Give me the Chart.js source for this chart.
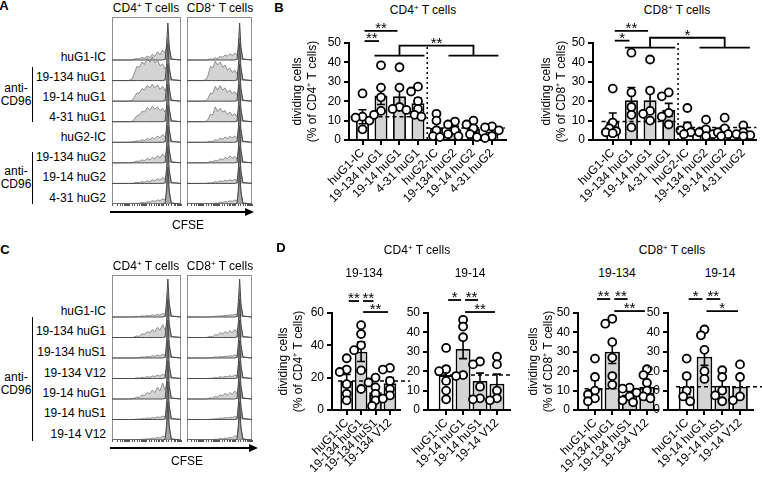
<!DOCTYPE html>
<html>
<head>
<meta charset="utf-8">
<script src="https://cdn.jsdelivr.net/npm/chart.js@4.4.1/dist/chart.umd.min.js"></script>
<style>
html, body { margin: 0; padding: 0; background: #fff; }
#fig { position: relative; width: 762px; height: 477px; overflow: hidden; background: #fff;
       font-family: 'Liberation Sans', Arial, Helvetica, sans-serif; font-size: 12px; color: #000; }
#fig canvas { position: absolute; }
.t { position: absolute; white-space: nowrap; line-height: 1; }
.t sup { font-size: 8px; vertical-align: 4px; line-height: 0; }
.pl { font-weight: bold; font-size: 13px; }
.br { position: absolute; width: 0; border-left: 1.5px solid #000; }
</style>
</head>
<body>
<div id="fig"></div>
<script>
// ---------- data: CFSE histograms (A, C), % of mode on a shared channel grid ----------
const cfseGrid = [0, 24, 29, 32, 36, 39.5, 43.5, 47, 51, 55, 58.5, 62, 66, 69.5, 73.5, 77, 79, 81, 83, 86, 100];
const ctrlPeak = [0, 0, 0, 0, 0, 0, 0, 0, 0, 0, 0, 0, 0, 0, 0, 2, 40, 100, 35, 2, 0];

const aRows = ['huG1-IC', '19-134 huG1', '19-14 huG1', '4-31 huG1', 'huG2-IC', '19-134 huG2', '19-14 huG2', '4-31 huG2'];
const aCd4Hist = [
  [0,0,1,2,4,3,7,5,10,7,15,10,22,14,27,18,35,60,30,3,0],
  [0,0,4,18,38,36,50,44,60,50,64,48,55,40,45,30,38,55,30,3,0],
  [0,0,2,10,22,22,34,30,42,36,46,36,44,32,40,28,36,55,30,3,0],
  [0,0,1,6,16,18,28,26,38,32,42,34,40,30,36,26,34,55,30,3,0],
  [0,0,1,2,4,3,7,5,10,7,13,9,17,12,21,14,28,60,30,3,0],
  [0,0,1,2,5,4,8,6,12,8,15,11,19,13,24,15,30,60,30,3,0],
  [0,0,0,1,3,2,5,3,7,5,10,7,13,9,16,11,26,65,30,3,0],
  [0,0,0,1,2,2,4,3,6,5,9,7,11,9,14,11,26,65,30,3,0]
];
const aCd8Hist = [
  [0,0,0,1,3,2,6,4,10,7,14,10,17,12,19,13,28,60,30,3,0],
  [0,0,2,12,38,34,52,42,50,36,42,28,34,22,28,18,30,55,30,3,0],
  [0,0,1,6,22,20,40,30,42,30,36,24,30,20,26,16,28,55,30,3,0],
  [0,0,1,5,20,18,40,28,36,26,30,20,26,16,22,14,28,55,30,3,0],
  [0,0,0,1,3,2,7,5,11,8,14,10,16,12,17,11,26,60,30,3,0],
  [0,0,0,1,4,3,7,5,11,8,15,11,19,13,17,11,26,60,30,3,0],
  [0,0,0,1,2,2,5,3,7,5,9,6,10,7,11,7,24,65,30,3,0],
  [0,0,0,0,1,1,3,2,5,4,7,5,9,7,11,8,24,65,30,3,0]
];

const cRows = ['huG1-IC', '19-134 huG1', '19-134 huS1', '19-134 V12', '19-14 huG1', '19-14 huS1', '19-14 V12'];
const cCd4Hist = [
  [0,0,0,1,2,1,3,2,4,3,6,4,7,5,9,7,20,65,30,3,0],
  [0,0,0,1,4,3,10,8,16,12,21,15,27,19,34,20,30,60,30,3,0],
  [0,0,0,0,1,1,3,2,4,3,6,4,8,5,10,7,20,65,30,3,0],
  [0,0,0,0,2,1,3,2,5,3,7,5,9,6,11,8,22,65,30,3,0],
  [0,0,1,2,5,4,11,9,17,14,23,17,31,21,42,24,34,60,30,3,0],
  [0,0,0,0,1,1,2,2,4,3,5,4,7,5,9,7,20,65,30,3,0],
  [0,0,0,0,1,1,2,2,3,3,5,4,7,5,10,9,24,65,30,3,0]
];
const cCd8Hist = [
  [0,0,0,0,1,1,2,2,3,3,4,4,6,5,7,6,20,65,30,3,0],
  [0,0,0,1,3,2,8,6,13,9,16,11,18,12,21,14,26,60,30,3,0],
  [0,0,0,0,1,1,3,2,4,3,5,4,6,5,8,6,20,65,30,3,0],
  [0,0,0,0,1,1,3,2,5,3,6,4,7,5,9,7,22,65,30,3,0],
  [0,0,0,1,3,2,7,5,11,8,15,10,17,12,21,14,26,60,30,3,0],
  [0,0,0,0,1,1,2,2,4,3,5,4,6,5,8,6,20,65,30,3,0],
  [0,0,0,0,1,1,2,2,4,3,5,4,7,5,11,9,26,65,30,3,0]
];

// ---------- data: dividing cells (%), panel B ----------
const bCats = aRows;
const bCd4Mean = [12, 23, 22.5, 19, 6.2, 5.5, 5.8, 4.4];
const bCd4Sem = [3.6, 4.7, 4.5, 2.6, 2.4, 1.6, 1.6, 1.2];
const bCd4Pts = [[24, 12, 11.5, 10, 5.5], [38.5, 27, 22, 15, 13], [37.5, 27, 17, 16, 15.5], [27.5, 25, 20, 16, 13, 12],
                 [13.5, 10, 5, 2, 1.5], [9.5, 8, 5, 3, 2], [10, 8, 6, 3, 1.5], [7, 6.5, 5, 2, 1]];
const bCd8Mean = [9.5, 20.5, 20.5, 15.5, 6.5, 5.2, 5.4, 3.8];
const bCd8Sem = [4.4, 6.6, 6.3, 3.4, 2.6, 1.5, 1.7, 1.0];
const bCd8Pts = [[26.5, 9, 6, 4.5, 4, 3.5], [45, 24.5, 17, 13, 6.5], [41.5, 25.5, 15, 13.5, 10], [24.5, 22.5, 14, 12, 8],
                 [16.5, 7, 5, 4, 3], [10.5, 5.5, 4, 3, 2], [11.5, 6, 4, 3, 2], [7.5, 4, 3, 2.5, 2]];

// ---------- data: dividing cells (%), panel D ----------
const d134Cats = ['huG1-IC', '19-134 huG1', '19-134 huS1', '19-134 V12'];
const d14Cats = ['huG1-IC', '19-14 huG1', '19-14 huS1', '19-14 V12'];
const dCd4134Mean = [18, 36, 11, 16.5];
const dCd4134Sem = [4, 6, 2.8, 3.5];
const dCd4134Pts = [[32, 25, 23.5, 16, 10, 6], [52.5, 47, 40, 37, 24.5, 13], [20, 17, 14, 10, 6, 2.5], [26, 25, 18, 13, 9, 7]];
const dCd414Mean = [18, 31.5, 15, 13.5];
const dCd414Sem = [4.5, 5, 4, 5];
const dCd414Pts = [[32, 21, 20, 15, 10, 5.5], [46.5, 43, 37.5, 18, 17.5], [25, 23.5, 12, 6, 5.5], [27.5, 23.5, 10, 6, 5]];
const dCd8134Mean = [11, 30, 8, 12];
const dCd8134Sem = [4.5, 6, 1.5, 2.5];
const dCd8134Pts = [[26.5, 17, 10, 8, 6, 4.5], [47, 44.5, 35, 27, 17.5, 13], [11.5, 11, 9, 7, 5, 4], [21, 18, 14, 10, 7, 6]];
const dCd814Mean = [12, 27.5, 12.5, 12];
const dCd814Sem = [4, 4.5, 3.5, 4];
const dCd814Pts = [[26.5, 17.5, 10, 7, 4.5], [41.5, 38.5, 31, 20, 16], [20.5, 17, 10, 7.5, 4.5], [23.5, 17, 7, 5]];

// ---------- setup ----------
const FONT = "'Liberation Sans', Arial, Helvetica, sans-serif";
Chart.defaults.font.family = FONT;
Chart.defaults.font.size = 12;
Chart.defaults.color = '#000';
Chart.defaults.animation = false;
Chart.defaults.responsive = false;
Chart.defaults.plugins.legend.display = false;
Chart.defaults.plugins.tooltip.enabled = false;

const fig = document.getElementById('fig');

function addCanvas(x, y, w, h) {
  const c = document.createElement('canvas');
  c.width = w; c.height = h;
  c.style.left = x + 'px'; c.style.top = y + 'px';
  c.style.width = w + 'px'; c.style.height = h + 'px';
  fig.appendChild(c);
  return c;
}

function txt(html, x, y, align, cls) {
  const d = document.createElement('div');
  d.className = 't' + (cls ? ' ' + cls : '');
  d.innerHTML = html;
  const tx = align === 'right' ? '-100%' : align === 'left' ? '0' : '-50%';
  d.style.left = x + 'px'; d.style.top = y + 'px';
  d.style.transform = 'translate(' + tx + ', -50%)';
  fig.appendChild(d);
}

function bracket(x, y0, y1) {
  const d = document.createElement('div');
  d.className = 'br';
  d.style.left = x + 'px'; d.style.top = y0 + 'px'; d.style.height = (y1 - y0) + 'px';
  fig.appendChild(d);
}

function arrow(x0, x1, y) {
  const l = document.createElement('div');
  l.style.cssText = 'position:absolute;background:#000;height:2px;left:' + x0 + 'px;top:' + (y - 1) + 'px;width:' + (x1 - x0 - 8) + 'px';
  const h = document.createElement('div');
  h.style.cssText = 'position:absolute;width:0;height:0;border-left:9px solid #000;border-top:4.5px solid transparent;border-bottom:4.5px solid transparent;left:' + (x1 - 9) + 'px;top:' + (y - 4.5) + 'px';
  fig.appendChild(l); fig.appendChild(h);
}

// ---------- histogram columns ----------
const histBox = {
  id: 'histBox',
  beforeDatasetsDraw(chart) {
    const {ctx, chartArea: a} = chart;
    ctx.save();
    ctx.strokeStyle = '#8f8f8f';
    ctx.lineWidth = 1;
    ctx.strokeRect(a.left + 0.5, a.top + 0.5, a.right - a.left - 1, a.bottom - a.top - 1);
    ctx.restore();
  }
};

function histChart(box, hist) {
  const w = box.right - box.left, h = box.bottom - box.top;
  const cv = addCanvas(box.left - 2, box.top - 2, w + 4, h + 8);
  const n = hist.length;
  const step = (box.bottom - box.firstBase) / (n - 1);
  const k = box.peak / 100;
  const datasets = [];
  for (let i = n - 1; i >= 0; i--) {
    const base = (n - 1 - i) * step;
    datasets.push({
      data: cfseGrid.map((x, j) => ({x, y: base + ctrlPeak[j] * k})),
      fill: {value: base}, backgroundColor: 'rgba(100,100,100,0.4)',
      borderColor: '#4a4a4a', borderWidth: 1, pointRadius: 0, tension: 0
    });
    datasets.push({
      data: cfseGrid.map((x, j) => ({x, y: base + hist[i][j] * k})),
      fill: {value: base}, backgroundColor: 'rgba(175,175,175,0.55)',
      borderColor: '#777', borderWidth: 0.8, pointRadius: 0, tension: 0
    });
  }
  new Chart(cv, {
    type: 'line',
    data: {datasets},
    options: {
      layout: {padding: {left: 2, right: 2, top: 2, bottom: 0}},
      scales: {
        x: {type: 'linear', min: 0, max: 100, display: false},
        y: {min: 0, max: h, display: false},
        xt: {
          type: 'logarithmic', position: 'bottom', min: 10, max: 100000, display: true,
          ticks: {display: false},
          grid: {display: true, drawOnChartArea: false, drawTicks: true, tickLength: 2, color: '#555', lineWidth: 1},
          border: {display: false},
          afterFit: s => { s.height = 6; }
        }
      }
    },
    plugins: [histBox]
  });
}

// ---------- bar + dot charts ----------
// side-by-side placement of dots that would overlap (pixel distances from the chart geometry)
function swarm(vals, xPx, yPx) {
  const placed = [];
  return vals.slice().sort((a, b) => b - a).map(v => {
    let best = 0, bestD = -1;
    for (const c of [0, -1, 1, -2, 2]) {
      const dx = c * 3.5;
      const d = placed.length ? Math.min(...placed.map(p => Math.hypot(p.dx - dx, (p.v - v) * yPx))) : 99;
      if (d >= 6) { best = dx; bestD = d; break; }
      if (d > bestD + 0.5) { best = dx; bestD = d; }
    }
    placed.push({dx: best, v});
    return {dx: best / xPx, v};
  });
}

function barChart(g, cats, mean, sem, pts, ann) {
  const cv = addCanvas(g.cl, g.ct, g.cr - g.cl, g.cb - g.ct);
  const xPx = (g.ar - g.ax) / (g.xmax - g.xmin);
  const yPx = (g.ab - g.at) / g.ymax;
  const dots = [];
  pts.forEach((vals, i) => swarm(vals, xPx, yPx).forEach(p => dots.push({x: i + p.dx, y: p.v})));

  const extras = {
    id: 'extras',
    afterDatasetDraw(chart, args) {
      if (args.meta.type !== 'bar') return;
      const {ctx, scales: {x, y}} = chart;
      ctx.save();
      ctx.strokeStyle = '#000';
      ctx.lineWidth = 1.6;
      mean.forEach((m, i) => {
        const px = x.getPixelForValue(i);
        const hi = y.getPixelForValue(m + sem[i]);
        const lo = y.getPixelForValue(Math.max(0, m - sem[i]));
        ctx.beginPath();
        ctx.moveTo(px, lo); ctx.lineTo(px, hi);
        ctx.moveTo(px - 4, hi); ctx.lineTo(px + 4, hi);
        ctx.moveTo(px - 4, lo); ctx.lineTo(px + 4, lo);
        ctx.stroke();
      });
      ctx.setLineDash([4, 3]);
      ctx.lineWidth = 1.5;
      ann.dash.forEach(d => {
        const yy = y.getPixelForValue(mean[d.ref]);
        ctx.beginPath();
        ctx.moveTo(x.getPixelForValue(d.from), yy);
        ctx.lineTo(x.getPixelForValue(d.to), yy);
        ctx.stroke();
      });
      ctx.restore();
    },
    afterDraw(chart) {
      const {ctx, scales: {x, y}} = chart;
      const X = v => x.getPixelForValue(v), Y = v => y.getPixelForValue(v);
      ctx.save();
      ctx.strokeStyle = '#000';
      ctx.fillStyle = '#000';
      ctx.lineWidth = 1.8;
      ctx.font = '15px ' + FONT;
      ctx.textAlign = 'center';
      ctx.textBaseline = 'alphabetic';
      (ann.sig || []).forEach(s => {
        const xa = X(s.a) + 2, xb = X(s.b) - 2, yy = Y(s.y);
        ctx.beginPath(); ctx.moveTo(xa, yy); ctx.lineTo(xb, yy); ctx.stroke();
        ctx.fillText(s.t, (xa + xb) / 2, yy + 2);
      });
      if (ann.group) {
        const G = ann.group, lo = Y(G.low), hi = Y(G.high);
        [G.g1, G.g2].forEach(r => {
          ctx.beginPath(); ctx.moveTo(X(r[0] - 0.35), lo); ctx.lineTo(X(r[1] + 0.35), lo); ctx.stroke();
        });
        const c1 = X((G.g1[0] + G.g1[1]) / 2), c2 = X((G.g2[0] + G.g2[1]) / 2);
        ctx.beginPath();
        ctx.moveTo(c1, lo); ctx.lineTo(c1, hi); ctx.lineTo(c2, hi); ctx.lineTo(c2, lo);
        ctx.stroke();
        ctx.fillText(G.t, (c1 + c2) / 2, hi + 2);
      }
      if (ann.divider) {
        ctx.setLineDash([2, 3]);
        ctx.lineWidth = 1.5;
        ctx.beginPath();
        ctx.moveTo(X(ann.divider.x), Y(ann.divider.top));
        ctx.lineTo(X(ann.divider.x), Y(0));
        ctx.stroke();
      }
      ctx.restore();
    }
  };

  const axisGrid = {display: true, drawOnChartArea: false, drawTicks: true, tickLength: 5, lineWidth: 2, color: '#000', offset: false};
  const axisBorder = {display: true, width: 2, color: '#000'};

  new Chart(cv, {
    type: 'bar',
    data: {
      datasets: [
        {
          type: 'bar', order: 1,
          data: cats.map((c, i) => ({x: i, y: mean[i]})),
          backgroundColor: cats.map(c => c.endsWith('-IC') ? '#fff' : '#d4d4d4'),
          borderColor: '#000', borderWidth: 1.8,
          barPercentage: g.bar, categoryPercentage: 1
        },
        {
          type: 'scatter', order: 0, clip: false,
          data: dots,
          pointRadius: 4, pointBorderWidth: 1.8,
          pointBorderColor: '#000', pointBackgroundColor: '#fff'
        }
      ]
    },
    options: {
      layout: {padding: {left: 0, top: g.at - g.ct, right: g.cr - g.ar, bottom: 0}},
      scales: {
        x: {
          type: 'linear', min: g.xmin, max: g.xmax, offset: false, bounds: 'data',
          afterBuildTicks: s => { s.ticks = cats.map((c, i) => ({value: i})); },
          afterFit: s => { s.height = g.cb - g.ab; },
          ticks: {autoSkip: false, minRotation: 45, maxRotation: 45, padding: 1, callback: v => cats[v]},
          grid: axisGrid, border: axisBorder
        },
        y: {
          min: 0, max: g.ymax,
          afterFit: s => { s.width = g.ax - g.cl; },
          ticks: {stepSize: 10, padding: 3},
          grid: axisGrid, border: axisBorder,
          title: g.title
            ? {display: true, text: g.title, padding: {top: 1, bottom: 0}, font: {size: 12, lineHeight: 1.25}}
            : {display: false}
        }
      }
    },
    plugins: [extras]
  });
}

// ---------- panel A ----------
txt('A', 4, 5, 'center', 'pl');
txt('CD4<sup>+</sup> T cells', 146, 8);
txt('CD8<sup>+</sup> T cells', 220, 8);
histChart({left: 112, right: 181, top: 17, bottom: 204, firstBase: 60, peak: 37}, aCd4Hist);
histChart({left: 187, right: 252, top: 17, bottom: 204, firstBase: 60, peak: 37}, aCd8Hist);
const aLabelY = [57, 77, 97, 117, 137, 157, 177, 198];
aRows.forEach((r, i) => txt(r, 106, aLabelY[i], 'right'));
bracket(32, 67, 122);
bracket(32, 152, 204);
txt('anti-', 16, 88); txt('CD96', 16, 101);
txt('anti-', 16, 171); txt('CD96', 16, 184);
arrow(110, 254, 212);
txt('CFSE', 188, 225);

// ---------- panel B ----------
txt('B', 279, 7, 'center', 'pl');
txt('CD4<sup>+</sup> T cells', 423, 10);
txt('CD8<sup>+</sup> T cells', 677, 10);
barChart({cl: 289, ct: 18, cr: 512, cb: 218, ax: 349, ar: 508, at: 43, ab: 140, xmin: -0.73, xmax: 7.77, ymax: 50, bar: 0.7,
          title: ['dividing cells', '(% of CD4\u207A T cells)']},
  bCats, bCd4Mean, bCd4Sem, bCd4Pts,
  {dash: [{ref: 0, from: -0.65, to: 3.4}, {ref: 4, from: 3.45, to: 7.7}],
   sig: [{a: 0, b: 1, y: 51, t: '**'}, {a: 0, b: 2, y: 56.2, t: '**'}],
   group: {g1: [1, 3], g2: [5, 7], low: 43.5, high: 48.6, t: '**'},
   divider: {x: 3.5, top: 48}});
barChart({cl: 538, ct: 18, cr: 762, cb: 218, ax: 593, ar: 758, at: 43, ab: 140, xmin: -1.06, xmax: 7.69, ymax: 50, bar: 0.7,
          title: ['dividing cells', '(% of CD8\u207A T cells)']},
  bCats, bCd8Mean, bCd8Sem, bCd8Pts,
  {dash: [{ref: 0, from: -0.6, to: 3.4}, {ref: 4, from: 3.45, to: 7.7}],
   sig: [{a: 0, b: 1, y: 51.2, t: '*'}, {a: 0, b: 2, y: 56.3, t: '**'}],
   group: {g1: [1, 3], g2: [5, 7], low: 47.6, high: 52.7, t: '*'},
   divider: {x: 3.5, top: 50}});

// ---------- panel C ----------
txt('C', 5, 249, 'center', 'pl');
txt('CD4<sup>+</sup> T cells', 146, 266);
txt('CD8<sup>+</sup> T cells', 220, 266);
histChart({left: 112, right: 181, top: 275, bottom: 440, firstBase: 317, peak: 38}, cCd4Hist);
histChart({left: 187, right: 252, top: 275, bottom: 440, firstBase: 317, peak: 38}, cCd8Hist);
const cLabelY = [311, 331, 352, 373, 393, 413, 434];
cRows.forEach((r, i) => txt(r, 106, cLabelY[i], 'right'));
bracket(32, 317, 441);
txt('anti-', 16, 377); txt('CD96', 16, 390);
arrow(110, 258, 448);
txt('CFSE', 187, 461);

// ---------- panel D ----------
txt('D', 281, 247, 'center', 'pl');
txt('CD4<sup>+</sup> T cells', 417, 250);
txt('CD8<sup>+</sup> T cells', 672, 250);
txt('19-134', 364, 273); txt('19-14', 470, 273);
txt('19-134', 617, 273); txt('19-14', 720, 273);
barChart({cl: 275, ct: 284, cr: 414, cb: 477, ax: 332, ar: 400, at: 313, ab: 410, xmin: -1.02, xmax: 3.70, ymax: 60, bar: 0.88,
          title: ['dividing cells', '(% of CD4\u207A T cells)']},
  d134Cats, dCd4134Mean, dCd4134Sem, dCd4134Pts,
  {dash: [{ref: 0, from: -0.6, to: 4.4}],
   sig: [{a: 0, b: 1, y: 67.4, t: '**'}, {a: 1, b: 2, y: 67.4, t: '**'}, {a: 1, b: 3, y: 60.6, t: '**'}]});
barChart({cl: 405, ct: 284, cr: 518, cb: 477, ax: 428, ar: 510, at: 313, ab: 410, xmin: -1.07, xmax: 3.77, ymax: 50, bar: 0.88,
          title: null},
  d14Cats, dCd414Mean, dCd414Sem, dCd414Pts,
  {dash: [{ref: 0, from: -0.6, to: 3.95}],
   sig: [{a: 0, b: 1, y: 56.7, t: '*'}, {a: 1, b: 2, y: 56.7, t: '**'}, {a: 1, b: 3, y: 50.5, t: '**'}]});
barChart({cl: 525, ct: 284, cr: 664, cb: 477, ax: 578, ar: 658, at: 313, ab: 410, xmin: -0.98, xmax: 3.64, ymax: 50, bar: 0.88,
          title: ['dividing cells', '(% of CD8\u207A T cells)']},
  d134Cats, dCd8134Mean, dCd8134Sem, dCd8134Pts,
  {dash: [{ref: 0, from: -0.6, to: 3.76}],
   sig: [{a: 0, b: 1, y: 57.2, t: '**'}, {a: 1, b: 2, y: 57.2, t: '**'}, {a: 1, b: 3, y: 51, t: '**'}]});
barChart({cl: 645, ct: 284, cr: 762, cb: 477, ax: 668, ar: 753, at: 313, ab: 410, xmin: -1.05, xmax: 3.73, ymax: 50, bar: 0.88,
          title: null},
  d14Cats, dCd814Mean, dCd814Sem, dCd814Pts,
  {dash: [{ref: 0, from: -0.6, to: 4.3}],
   sig: [{a: 0, b: 1, y: 57.2, t: '*'}, {a: 1, b: 2, y: 57.2, t: '**'}, {a: 1, b: 3, y: 51, t: '*'}]});
</script>
</body>
</html>
